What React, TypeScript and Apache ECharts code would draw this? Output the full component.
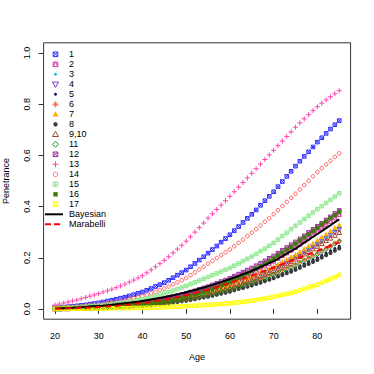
import React, { useEffect, useRef } from "react";
import * as echarts from "echarts";

const ages = [
  20, 21, 22, 23, 24, 25, 26, 27, 28, 29, 30, 31, 32, 33, 34, 35, 36, 37, 38, 39,
  40, 41, 42, 43, 44, 45, 46, 47, 48, 49, 50, 51, 52, 53, 54, 55, 56, 57, 58, 59,
  60, 61, 62, 63, 64, 65, 66, 67, 68, 69, 70, 71, 72, 73, 74, 75, 76, 77, 78, 79,
  80, 81, 82, 83, 84, 85,
];

const xTicks = [20, 30, 40, 50, 60, 70, 80];
const yTicks = [0, 0.2, 0.4, 0.6, 0.8, 1.0];

const s1 = [
  0.005, 0.006, 0.007, 0.009, 0.010, 0.012, 0.014, 0.016, 0.019, 0.021,
  0.024, 0.027, 0.031, 0.034, 0.038, 0.042, 0.046, 0.051, 0.056, 0.061,
  0.066, 0.073, 0.080, 0.088, 0.095, 0.103, 0.112, 0.122, 0.132, 0.142,
  0.152, 0.165, 0.178, 0.191, 0.204, 0.218, 0.232, 0.246, 0.261, 0.275,
  0.290, 0.306, 0.322, 0.338, 0.354, 0.370, 0.387, 0.405, 0.423, 0.440,
  0.458, 0.478, 0.498, 0.518, 0.538, 0.558, 0.577, 0.596, 0.614, 0.633,
  0.652, 0.669, 0.686, 0.703, 0.720, 0.736,
];
const s2 = [
  0.002, 0.003, 0.003, 0.004, 0.004, 0.005, 0.006, 0.007, 0.008, 0.009,
  0.010, 0.011, 0.012, 0.014, 0.015, 0.016, 0.018, 0.020, 0.021, 0.023,
  0.025, 0.028, 0.030, 0.033, 0.035, 0.038, 0.041, 0.045, 0.048, 0.052,
  0.055, 0.060, 0.064, 0.069, 0.073, 0.078, 0.084, 0.089, 0.095, 0.100,
  0.106, 0.113, 0.120, 0.128, 0.135, 0.142, 0.151, 0.160, 0.168, 0.177,
  0.186, 0.197, 0.208, 0.218, 0.229, 0.240, 0.252, 0.265, 0.277, 0.290,
  0.302, 0.315, 0.328, 0.342, 0.355, 0.368,
];
const s3 = [
  0.002, 0.003, 0.003, 0.004, 0.004, 0.005, 0.006, 0.007, 0.007, 0.008,
  0.009, 0.010, 0.011, 0.013, 0.014, 0.015, 0.017, 0.018, 0.020, 0.021,
  0.023, 0.025, 0.027, 0.030, 0.032, 0.034, 0.037, 0.040, 0.043, 0.046,
  0.049, 0.053, 0.057, 0.060, 0.064, 0.068, 0.073, 0.078, 0.083, 0.088,
  0.093, 0.099, 0.105, 0.112, 0.118, 0.124, 0.132, 0.139, 0.147, 0.154,
  0.162, 0.171, 0.180, 0.189, 0.198, 0.207, 0.218, 0.228, 0.239, 0.249,
  0.260, 0.272, 0.283, 0.295, 0.306, 0.318,
];
const s4 = [
  0.003, 0.004, 0.004, 0.005, 0.005, 0.006, 0.007, 0.008, 0.009, 0.010,
  0.011, 0.012, 0.013, 0.015, 0.016, 0.017, 0.019, 0.020, 0.022, 0.023,
  0.025, 0.027, 0.029, 0.032, 0.034, 0.036, 0.039, 0.042, 0.044, 0.047,
  0.050, 0.054, 0.057, 0.061, 0.064, 0.068, 0.073, 0.077, 0.082, 0.086,
  0.091, 0.097, 0.103, 0.108, 0.114, 0.120, 0.127, 0.134, 0.142, 0.149,
  0.156, 0.165, 0.174, 0.182, 0.191, 0.200, 0.210, 0.221, 0.231, 0.242,
  0.252, 0.264, 0.275, 0.287, 0.298, 0.310,
];
const s5 = [
  0.001, 0.001, 0.002, 0.002, 0.003, 0.003, 0.003, 0.004, 0.004, 0.005,
  0.005, 0.006, 0.007, 0.008, 0.008, 0.009, 0.010, 0.011, 0.012, 0.013,
  0.014, 0.016, 0.018, 0.019, 0.021, 0.023, 0.025, 0.028, 0.030, 0.033,
  0.035, 0.038, 0.042, 0.045, 0.049, 0.052, 0.056, 0.060, 0.064, 0.068,
  0.072, 0.077, 0.082, 0.087, 0.092, 0.097, 0.103, 0.109, 0.114, 0.120,
  0.126, 0.133, 0.140, 0.146, 0.153, 0.160, 0.168, 0.176, 0.184, 0.192,
  0.200, 0.209, 0.218, 0.227, 0.236, 0.245,
];
const s6 = [
  0.002, 0.002, 0.003, 0.003, 0.004, 0.004, 0.005, 0.006, 0.006, 0.007,
  0.008, 0.009, 0.010, 0.011, 0.012, 0.013, 0.014, 0.016, 0.017, 0.019,
  0.020, 0.022, 0.024, 0.026, 0.028, 0.030, 0.033, 0.035, 0.038, 0.040,
  0.043, 0.046, 0.050, 0.053, 0.057, 0.060, 0.064, 0.068, 0.073, 0.077,
  0.081, 0.086, 0.091, 0.097, 0.102, 0.107, 0.113, 0.119, 0.126, 0.132,
  0.138, 0.145, 0.153, 0.160, 0.168, 0.175, 0.184, 0.192, 0.201, 0.209,
  0.218, 0.228, 0.238, 0.248, 0.258, 0.268,
];
const s7 = [
  0.002, 0.003, 0.003, 0.004, 0.004, 0.005, 0.006, 0.007, 0.007, 0.008,
  0.009, 0.010, 0.011, 0.013, 0.014, 0.015, 0.017, 0.018, 0.020, 0.021,
  0.023, 0.025, 0.028, 0.030, 0.033, 0.035, 0.038, 0.041, 0.044, 0.047,
  0.050, 0.054, 0.058, 0.062, 0.066, 0.070, 0.075, 0.080, 0.086, 0.091,
  0.096, 0.102, 0.109, 0.115, 0.122, 0.128, 0.136, 0.144, 0.151, 0.159,
  0.167, 0.176, 0.186, 0.195, 0.205, 0.214, 0.225, 0.236, 0.248, 0.259,
  0.270, 0.282, 0.294, 0.306, 0.318, 0.330,
];
const s8 = [
  0.001, 0.001, 0.001, 0.002, 0.002, 0.002, 0.002, 0.003, 0.003, 0.004,
  0.004, 0.005, 0.005, 0.006, 0.006, 0.007, 0.008, 0.009, 0.010, 0.011,
  0.012, 0.014, 0.015, 0.017, 0.018, 0.020, 0.022, 0.025, 0.027, 0.030,
  0.032, 0.035, 0.038, 0.042, 0.045, 0.048, 0.052, 0.056, 0.060, 0.064,
  0.068, 0.073, 0.078, 0.082, 0.087, 0.092, 0.098, 0.103, 0.109, 0.114,
  0.120, 0.127, 0.133, 0.140, 0.146, 0.153, 0.161, 0.169, 0.176, 0.184,
  0.192, 0.201, 0.210, 0.219, 0.228, 0.237,
];
const s9_10 = [
  0.001, 0.001, 0.002, 0.002, 0.003, 0.003, 0.004, 0.004, 0.005, 0.005,
  0.006, 0.007, 0.008, 0.009, 0.010, 0.011, 0.012, 0.014, 0.015, 0.017,
  0.018, 0.020, 0.022, 0.024, 0.026, 0.028, 0.031, 0.034, 0.036, 0.039,
  0.042, 0.046, 0.050, 0.053, 0.057, 0.061, 0.066, 0.071, 0.075, 0.080,
  0.085, 0.091, 0.097, 0.103, 0.109, 0.115, 0.122, 0.130, 0.137, 0.145,
  0.152, 0.161, 0.170, 0.178, 0.187, 0.196, 0.206, 0.216, 0.226, 0.236,
  0.246, 0.257, 0.268, 0.278, 0.289, 0.300,
];
const s11 = [
  0.001, 0.001, 0.002, 0.002, 0.003, 0.003, 0.004, 0.004, 0.005, 0.005,
  0.006, 0.007, 0.008, 0.008, 0.009, 0.010, 0.011, 0.012, 0.014, 0.015,
  0.016, 0.018, 0.020, 0.021, 0.023, 0.025, 0.028, 0.030, 0.033, 0.035,
  0.038, 0.041, 0.045, 0.048, 0.052, 0.055, 0.059, 0.063, 0.068, 0.072,
  0.076, 0.081, 0.086, 0.092, 0.097, 0.102, 0.108, 0.114, 0.121, 0.127,
  0.133, 0.140, 0.148, 0.155, 0.163, 0.170, 0.179, 0.188, 0.196, 0.205,
  0.214, 0.224, 0.234, 0.244, 0.254, 0.264,
];
const s12 = [
  0.003, 0.004, 0.004, 0.005, 0.005, 0.006, 0.007, 0.008, 0.009, 0.010,
  0.011, 0.012, 0.014, 0.015, 0.017, 0.018, 0.020, 0.022, 0.024, 0.026,
  0.028, 0.031, 0.034, 0.036, 0.039, 0.042, 0.046, 0.050, 0.053, 0.057,
  0.061, 0.066, 0.071, 0.077, 0.082, 0.087, 0.094, 0.100, 0.107, 0.113,
  0.120, 0.128, 0.136, 0.144, 0.152, 0.160, 0.169, 0.179, 0.188, 0.198,
  0.207, 0.218, 0.229, 0.240, 0.251, 0.262, 0.274, 0.286, 0.299, 0.311,
  0.323, 0.335, 0.348, 0.360, 0.373, 0.385,
];
const s13 = [
  0.015, 0.019, 0.023, 0.027, 0.031, 0.035, 0.040, 0.045, 0.050, 0.055,
  0.060, 0.066, 0.071, 0.077, 0.083, 0.090, 0.097, 0.105, 0.113, 0.121,
  0.130, 0.141, 0.153, 0.165, 0.177, 0.190, 0.204, 0.219, 0.234, 0.249,
  0.265, 0.282, 0.300, 0.318, 0.336, 0.355, 0.372, 0.389, 0.406, 0.423,
  0.440, 0.458, 0.476, 0.494, 0.512, 0.530, 0.548, 0.566, 0.584, 0.602,
  0.620, 0.638, 0.656, 0.674, 0.692, 0.710, 0.727, 0.743, 0.759, 0.775,
  0.790, 0.804, 0.817, 0.829, 0.841, 0.853,
];
const s14 = [
  0.004, 0.005, 0.006, 0.007, 0.008, 0.009, 0.011, 0.013, 0.015, 0.016,
  0.018, 0.020, 0.023, 0.025, 0.028, 0.031, 0.035, 0.039, 0.042, 0.046,
  0.050, 0.055, 0.061, 0.067, 0.074, 0.080, 0.088, 0.096, 0.104, 0.112,
  0.121, 0.132, 0.143, 0.154, 0.165, 0.177, 0.188, 0.199, 0.210, 0.221,
  0.232, 0.245, 0.258, 0.271, 0.285, 0.298, 0.312, 0.326, 0.341, 0.355,
  0.370, 0.386, 0.402, 0.418, 0.434, 0.450, 0.467, 0.484, 0.501, 0.518,
  0.535, 0.550, 0.565, 0.579, 0.594, 0.608,
];
const s15 = [
  0.003, 0.004, 0.004, 0.005, 0.006, 0.007, 0.008, 0.009, 0.011, 0.012,
  0.013, 0.015, 0.017, 0.019, 0.021, 0.023, 0.026, 0.029, 0.032, 0.035,
  0.038, 0.042, 0.046, 0.051, 0.055, 0.060, 0.066, 0.072, 0.078, 0.084,
  0.090, 0.097, 0.104, 0.111, 0.118, 0.125, 0.132, 0.139, 0.146, 0.153,
  0.160, 0.169, 0.178, 0.187, 0.196, 0.205, 0.215, 0.226, 0.236, 0.247,
  0.258, 0.271, 0.285, 0.298, 0.312, 0.325, 0.338, 0.351, 0.364, 0.377,
  0.390, 0.402, 0.414, 0.426, 0.439, 0.452,
];
const s16 = [
  0.001, 0.001, 0.002, 0.002, 0.003, 0.003, 0.004, 0.004, 0.005, 0.005,
  0.006, 0.007, 0.008, 0.009, 0.010, 0.011, 0.012, 0.014, 0.015, 0.017,
  0.018, 0.020, 0.023, 0.025, 0.028, 0.030, 0.033, 0.037, 0.040, 0.044,
  0.047, 0.052, 0.057, 0.062, 0.067, 0.072, 0.079, 0.085, 0.092, 0.098,
  0.105, 0.113, 0.122, 0.130, 0.139, 0.147, 0.157, 0.167, 0.177, 0.187,
  0.197, 0.209, 0.220, 0.232, 0.243, 0.255, 0.267, 0.280, 0.292, 0.305,
  0.317, 0.330, 0.342, 0.355, 0.367, 0.380,
];
const s17 = [
  0.000, 0.000, 0.001, 0.001, 0.001, 0.001, 0.001, 0.002, 0.002, 0.002,
  0.002, 0.002, 0.002, 0.003, 0.003, 0.003, 0.003, 0.003, 0.004, 0.004,
  0.004, 0.005, 0.005, 0.006, 0.006, 0.007, 0.008, 0.009, 0.009, 0.010,
  0.011, 0.012, 0.013, 0.014, 0.015, 0.016, 0.017, 0.018, 0.020, 0.021,
  0.022, 0.024, 0.026, 0.028, 0.030, 0.032, 0.035, 0.038, 0.041, 0.044,
  0.047, 0.051, 0.055, 0.059, 0.063, 0.067, 0.072, 0.078, 0.084, 0.089,
  0.095, 0.102, 0.109, 0.117, 0.125, 0.133,
];
const bayesian = [
  0.002, 0.003, 0.003, 0.004, 0.005, 0.006, 0.007, 0.008, 0.010, 0.011,
  0.012, 0.013, 0.015, 0.016, 0.018, 0.020, 0.022, 0.024, 0.026, 0.028,
  0.031, 0.034, 0.037, 0.040, 0.043, 0.046, 0.050, 0.053, 0.057, 0.061,
  0.065, 0.070, 0.074, 0.079, 0.084, 0.089, 0.094, 0.100, 0.105, 0.111,
  0.117, 0.123, 0.129, 0.136, 0.142, 0.149, 0.156, 0.164, 0.171, 0.179,
  0.187, 0.196, 0.206, 0.216, 0.226, 0.236, 0.247, 0.259, 0.270, 0.282,
  0.293, 0.304, 0.316, 0.327, 0.339, 0.350,
];
const marabelli = [
  0.001, 0.002, 0.002, 0.003, 0.003, 0.004, 0.005, 0.005, 0.006, 0.007,
  0.008, 0.009, 0.010, 0.011, 0.012, 0.014, 0.016, 0.017, 0.019, 0.021,
  0.023, 0.025, 0.028, 0.031, 0.033, 0.036, 0.039, 0.043, 0.046, 0.050,
  0.053, 0.057, 0.062, 0.066, 0.071, 0.075, 0.080, 0.085, 0.091, 0.096,
  0.101, 0.107, 0.113, 0.118, 0.124, 0.130, 0.136, 0.143, 0.149, 0.156,
  0.162, 0.168, 0.175, 0.181, 0.188, 0.194, 0.201, 0.207, 0.214, 0.220,
  0.227, 0.234, 0.240, 0.247, 0.253, 0.260,
];

const seriesLabels = ["1", "2", "3", "4", "5", "6", "7", "8", "9,10", "11", "12", "13", "14", "15", "16", "17"];
const seriesValues = [s1, s2, s3, s4, s5, s6, s7, s8, s9_10, s11, s12, s13, s14, s15, s16, s17];
const seriesColors = [
  "#2b2bff", "#d63ca0", "#10c8d0", "#7a3fc8", "#14145a", "#ff6a4a", "#ffae00", "#3a3a3a",
  "#a0461e", "#1e8c1e", "#9a2e9a", "#ff45b0", "#ff5c5c", "#8fe88f", "#3f7a0c", "#ffff00",
];
const seriesKinds = [
  "sqx", "sqtri", "dot", "dtri", "dot", "star", "ftri", "fcircle",
  "tri", "diamond", "sqx", "plus", "ocircle", "sqplus", "fsq", "sqx",
];
const lineLabels = ["Bayesian", "Marabelli"];
const lineColors = ["#000000", "#ff0000"];

const SYM: Record<string, { symbol: string; filled: boolean; size: number }> = {
  sqx: { symbol: "path://M0,0L10,0L10,10L0,10Z M0,0L10,10 M10,0L0,10", filled: false, size: 3.6 },
  sqtri: { symbol: "path://M0,0L10,0L10,10L0,10Z M0,10L5,0L10,10", filled: false, size: 3.6 },
  sqplus: { symbol: "path://M0,0L10,0L10,10L0,10Z M5,0L5,10 M0,5L10,5", filled: false, size: 3.6 },
  plus: { symbol: "path://M5,0L5,10 M0,5L10,5", filled: false, size: 5 },
  star: { symbol: "path://M5,0L5,10 M0,5L10,5 M1.5,1.5L8.5,8.5 M8.5,1.5L1.5,8.5", filled: false, size: 4.6 },
  ocircle: { symbol: "circle", filled: false, size: 3.6 },
  dtri: { symbol: "path://M0,0L10,0L5,8.66Z", filled: false, size: 4.6 },
  tri: { symbol: "triangle", filled: false, size: 4.6 },
  diamond: { symbol: "diamond", filled: false, size: 4.6 },
  ftri: { symbol: "triangle", filled: true, size: 5 },
  fcircle: { symbol: "circle", filled: true, size: 4.2 },
  dot: { symbol: "circle", filled: true, size: 3 },
  fsq: { symbol: "rect", filled: true, size: 4.2 },
};

function legendSymbol(kind: string, color: string, cx: number, cy: number): any {
  const h = 2.3;
  const st = { fill: "none", stroke: color, lineWidth: 1 };
  const sq = { type: "rect", shape: { x: -h, y: -h, width: 2 * h, height: 2 * h }, style: st };
  const ln = (x1: number, y1: number, x2: number, y2: number) => ({
    type: "line",
    shape: { x1, y1, x2, y2 },
    style: { stroke: color, lineWidth: 1 },
  });
  let children: any[] = [];
  switch (kind) {
    case "sqx":
      children = [sq, ln(-h, -h, h, h), ln(h, -h, -h, h)];
      break;
    case "sqtri":
      children = [sq, { type: "polyline", shape: { points: [[-h, h], [0, -h], [h, h]] }, style: st }];
      break;
    case "sqplus":
      children = [sq, ln(0, -h, 0, h), ln(-h, 0, h, 0)];
      break;
    case "plus":
      children = [ln(0, -3, 0, 3), ln(-3, 0, 3, 0)];
      break;
    case "star":
      children = [ln(0, -3, 0, 3), ln(-3, 0, 3, 0), ln(-2.1, -2.1, 2.1, 2.1), ln(2.1, -2.1, -2.1, 2.1)];
      break;
    case "ocircle":
      children = [{ type: "circle", shape: { cx: 0, cy: 0, r: 2.2 }, style: st }];
      break;
    case "dtri":
      children = [{ type: "polygon", shape: { points: [[-3, -2.2], [3, -2.2], [0, 3]] }, style: st }];
      break;
    case "tri":
      children = [{ type: "polygon", shape: { points: [[-3, 2.2], [3, 2.2], [0, -3]] }, style: st }];
      break;
    case "diamond":
      children = [{ type: "polygon", shape: { points: [[0, -3], [3, 0], [0, 3], [-3, 0]] }, style: st }];
      break;
    case "ftri":
      children = [{ type: "polygon", shape: { points: [[-3, 2.2], [3, 2.2], [0, -3]] }, style: { fill: color } }];
      break;
    case "fcircle":
      children = [{ type: "circle", shape: { cx: 0, cy: 0, r: 2.2 }, style: { fill: color } }];
      break;
    case "dot":
      children = [{ type: "circle", shape: { cx: 0, cy: 0, r: 1.5 }, style: { fill: color } }];
      break;
    case "fsq":
      children = [{ type: "rect", shape: { x: -2.2, y: -2.2, width: 4.4, height: 4.4 }, style: { fill: color } }];
      break;
  }
  return { type: "group", x: cx, y: cy, children };
}

export default function App() {
  const ref = useRef<HTMLDivElement>(null);
  useEffect(() => {
    document.body.style.margin = "0";
    if (!ref.current) return;
    const chart = echarts.init(ref.current, undefined, { renderer: "svg" });
    const font = "Liberation Sans, Arial, Helvetica, sans-serif";

    const scatterSeries = seriesValues.map((vals, i) => {
      const spec = SYM[seriesKinds[i]];
      const color = seriesColors[i];
      return {
        type: "scatter",
        name: seriesLabels[i],
        data: ages.map((a, j) => [a, vals[j]]),
        symbol: spec.symbol,
        symbolSize: spec.size,
        itemStyle: spec.filled
          ? { color, opacity: 1 }
          : { color: "rgba(0,0,0,0)", borderColor: color, borderWidth: 1, opacity: 1 },
        emphasis: { disabled: true },
        silent: true,
      };
    });
    const lineSeries = [bayesian, marabelli].map((vals, i) => ({
      type: "line",
      name: lineLabels[i],
      data: ages.map((a, j) => [a, vals[j]]),
      showSymbol: false,
      lineStyle: { color: lineColors[i], width: 2, type: i === 1 ? [6, 4] : "solid" },
      itemStyle: { color: lineColors[i] },
      silent: true,
    }));

    const legendTop = 54.3;
    const legendStep = 10;
    const graphics: any[] = [];
    seriesLabels.forEach((lab, i) => {
      const cy = legendTop + legendStep * i;
      graphics.push(legendSymbol(seriesKinds[i], seriesColors[i], 55.5, cy));
      graphics.push({
        type: "text",
        x: 69,
        y: cy,
        style: { text: lab, fill: "#000", font: `9px ${font}`, verticalAlign: "middle", align: "left" },
      });
    });
    lineLabels.forEach((lab, i) => {
      const cy = legendTop + legendStep * (seriesLabels.length + i);
      graphics.push({
        type: "line",
        shape: { x1: 45, y1: cy, x2: 63, y2: cy },
        style: { stroke: lineColors[i], lineWidth: 2, lineDash: i === 1 ? [6, 3] : null },
      });
      graphics.push({
        type: "text",
        x: 69,
        y: cy,
        style: { text: lab, fill: "#000", font: `9px ${font}`, verticalAlign: "middle", align: "left" },
      });
    });

    chart.setOption({
      animation: false,
      backgroundColor: "#ffffff",
      textStyle: { fontFamily: font },
      grid: {
        left: 43.6,
        top: 42.8,
        width: 307,
        height: 276.4,
        show: true,
        borderColor: "#333333",
        borderWidth: 1,
        backgroundColor: "transparent",
        containLabel: false,
        outerBoundsMode: "none",
      },
      xAxis: {
        type: "value",
        min: 17.4,
        max: 87.6,
        name: "Age",
        nameLocation: "middle",
        nameGap: 33,
        nameTextStyle: { fontSize: 9, color: "#000", fontFamily: font },
        axisLine: { show: false },
        splitLine: { show: false },
        axisTick: { show: true, length: 5, lineStyle: { color: "#333" }, customValues: xTicks },
        axisLabel: { customValues: xTicks, fontSize: 9, color: "#000", margin: 12, fontFamily: font },
      },
      yAxis: {
        type: "value",
        min: -0.04,
        max: 1.04,
        name: "Penetrance",
        nameLocation: "middle",
        nameGap: 33,
        nameRotate: 90,
        nameTextStyle: { fontSize: 9, color: "#000", fontFamily: font },
        axisLine: { show: false },
        splitLine: { show: false },
        axisTick: { show: true, length: 5, lineStyle: { color: "#333" }, customValues: yTicks },
        axisLabel: {
          customValues: yTicks,
          rotate: 90,
          fontSize: 9,
          color: "#000",
          margin: 12,
          fontFamily: font,
          formatter: (v: number) => v.toFixed(1),
        },
      },
      graphic: graphics,
      series: [...scatterSeries, ...lineSeries],
    });
    return () => chart.dispose();
  }, []);
  return <div ref={ref} style={{ width: 374, height: 374 }} />;
}
